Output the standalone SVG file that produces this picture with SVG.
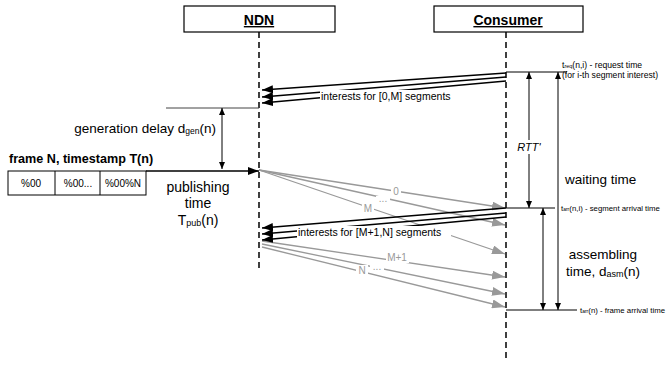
<svg xmlns="http://www.w3.org/2000/svg" width="668" height="367" viewBox="0 0 668 367">
<style>
.t{font-family:"Liberation Sans",Arial,sans-serif;fill:#000}
.g{fill:#999}
.life{stroke:#000;stroke-width:1.5;stroke-dasharray:6,4;fill:none}
.box{fill:#fff;stroke:#000;stroke-width:1.2}
.int{stroke:#000;stroke-width:1.5;fill:none;marker-end:url(#ab)}
.dat{stroke:#999;stroke-width:1.3;fill:none;marker-end:url(#ag)}
.thin{stroke:#000;stroke-width:1;fill:none}
.dbl{stroke:#000;stroke-width:1;fill:none;marker-start:url(#as);marker-end:url(#as)}
.bg{fill:#fff}
</style>
<defs>
<marker id="ab" markerUnits="userSpaceOnUse" markerWidth="12" markerHeight="8" refX="11" refY="4" orient="auto"><path d="M0,0 L11,4 L0,8 Z" fill="#000"/></marker>
<marker id="ag" markerUnits="userSpaceOnUse" markerWidth="14" markerHeight="9" refX="13" refY="4.5" orient="auto"><path d="M0,0 L13,4.5 L0,9 Z" fill="#999"/></marker>
<marker id="as" markerUnits="userSpaceOnUse" markerWidth="8" markerHeight="6" refX="7" refY="3" orient="auto-start-reverse"><path d="M0,0 L7,3 L0,6 Z" fill="#000"/></marker>
</defs>

<g id="ndn">
<rect class="box" x="184" y="6" width="151" height="26"/>
<text class="t" x="259" y="25" font-size="14" font-weight="bold" text-anchor="middle" text-decoration="underline">NDN</text>
<line class="life" x1="259" y1="32" x2="259" y2="272"/>
</g>
<g id="consumer">
<rect class="box" x="434" y="6" width="149" height="26"/>
<text class="t" x="508" y="25" font-size="14" font-weight="bold" text-anchor="middle" text-decoration="underline">Consumer</text>
<line class="life" x1="506" y1="32" x2="506" y2="362"/>
</g>

<g id="frame">
<text class="t" x="9" y="163" font-size="12.6" font-weight="bold">frame N, timestamp T(n)</text>
<rect x="8" y="171" width="138" height="24" fill="#fff" stroke="#000" stroke-width="1"/>
<line class="thin" x1="55" y1="171" x2="55" y2="195"/>
<line class="thin" x1="100" y1="171" x2="100" y2="195"/>
<text class="t" x="31" y="187" font-size="10" text-anchor="middle">%00</text>
<text class="t" x="78" y="187" font-size="10" text-anchor="middle">%00...</text>
<text class="t" x="123" y="187" font-size="10" text-anchor="middle">%00%N</text>
</g>

<g id="annotations">
<text class="t" x="216" y="133" font-size="13.5" text-anchor="end">generation delay d<tspan font-size="8.5" dy="1">gen</tspan><tspan dy="-1">(n)</tspan></text>
<text class="t" x="198" y="192" font-size="14" text-anchor="middle">publishing</text>
<text class="t" x="198" y="208" font-size="14" text-anchor="middle">time</text>
<text class="t" x="198" y="225" font-size="14" text-anchor="middle">T<tspan font-size="9" dy="1">pub</tspan><tspan dy="-1">(n)</tspan></text>
<text class="t" x="562" y="68" font-size="8.6">t<tspan font-size="5.5">req</tspan>(n,i) - request time</text>
<text class="t" x="562" y="78" font-size="8.6">(for i-th segment interest)</text>
<text class="t" x="561" y="211" font-size="7.8">t<tspan font-size="5">arr</tspan>(n,i) - segment arrival time</text>
<text class="t" x="580" y="313" font-size="7.8">t<tspan font-size="5">arr</tspan>(n) - frame arrival time</text>
<text class="t" x="565" y="184" font-size="13.5">waiting time</text>
<text class="t" x="603" y="259" font-size="13.5" text-anchor="middle">assembling</text>
<text class="t" x="603" y="276" font-size="13.5" text-anchor="middle">time, d<tspan font-size="9" dy="1">asm</tspan><tspan dy="-1">(n)</tspan></text>
</g>

<g id="connectors">
<line x1="166" y1="108" x2="259" y2="108" stroke="#444" stroke-width="1"/>
<line class="dbl" x1="222" y1="108" x2="222" y2="169"/>
<line x1="146" y1="171" x2="259" y2="171" stroke="#000" stroke-width="1.5" marker-end="url(#ab)"/>

<line class="thin" x1="506" y1="72" x2="567" y2="72"/>
<line class="thin" x1="506" y1="208" x2="555" y2="208"/>
<line class="thin" x1="506" y1="310" x2="577" y2="310"/>
<line class="dbl" x1="529" y1="72" x2="529" y2="208"/>
<line class="dbl" x1="558" y1="72" x2="558" y2="310"/>
<line class="dbl" x1="543" y1="208" x2="543" y2="310"/>
<rect class="bg" x="516" y="140" width="26" height="14"/>
<text class="t" x="529" y="151" font-size="11" font-style="italic" text-anchor="middle">RTT'</text>

<line class="int" x1="506" y1="73" x2="262" y2="90"/>
<line class="int" x1="506" y1="77" x2="262" y2="97"/>
<line class="int" x1="506" y1="81" x2="262" y2="103"/>
<rect class="bg" x="320" y="90" width="136" height="12"/>
<text class="t" x="321" y="100" font-size="10.5">interests for [0,M] segments</text>

<line class="dat" x1="259" y1="170" x2="505" y2="208"/>
<line class="dat" x1="259" y1="170" x2="505" y2="225"/>
<line class="dat" x1="259" y1="170" x2="505" y2="254"/>
<rect class="bg" x="391" y="186" width="10" height="11"/>
<text class="t g" x="396" y="195" font-size="10" text-anchor="middle">0</text>
<rect class="bg" x="376" y="196" width="14" height="6"/>
<text class="t g" x="383" y="202" font-size="10" text-anchor="middle">...</text>
<rect class="bg" x="362" y="203" width="12" height="11"/>
<text class="t g" x="368" y="212" font-size="10" text-anchor="middle">M</text>

<line class="dat" x1="262" y1="241" x2="505" y2="277"/>
<line class="dat" x1="262" y1="244" x2="505" y2="294"/>
<line class="dat" x1="262" y1="247" x2="505" y2="307"/>

<line class="int" x1="506" y1="208" x2="262" y2="228"/>
<line class="int" x1="506" y1="213" x2="262" y2="234"/>
<line class="int" x1="506" y1="217" x2="262" y2="240"/>
<rect class="bg" x="297" y="226" width="154" height="12"/>
<text class="t" x="298" y="236" font-size="10.5">interests for [M+1,N] segments</text>

<rect class="bg" x="386" y="252" width="23" height="11"/>
<text class="t g" x="397" y="261" font-size="10" text-anchor="middle">M+1</text>
<rect class="bg" x="356" y="265" width="12" height="11"/>
<text class="t g" x="362" y="274" font-size="10" text-anchor="middle">N</text>
<rect class="bg" x="370" y="264" width="14" height="6"/>
<text class="t g" x="377" y="270" font-size="10" text-anchor="middle">...</text>
</g>
</svg>
